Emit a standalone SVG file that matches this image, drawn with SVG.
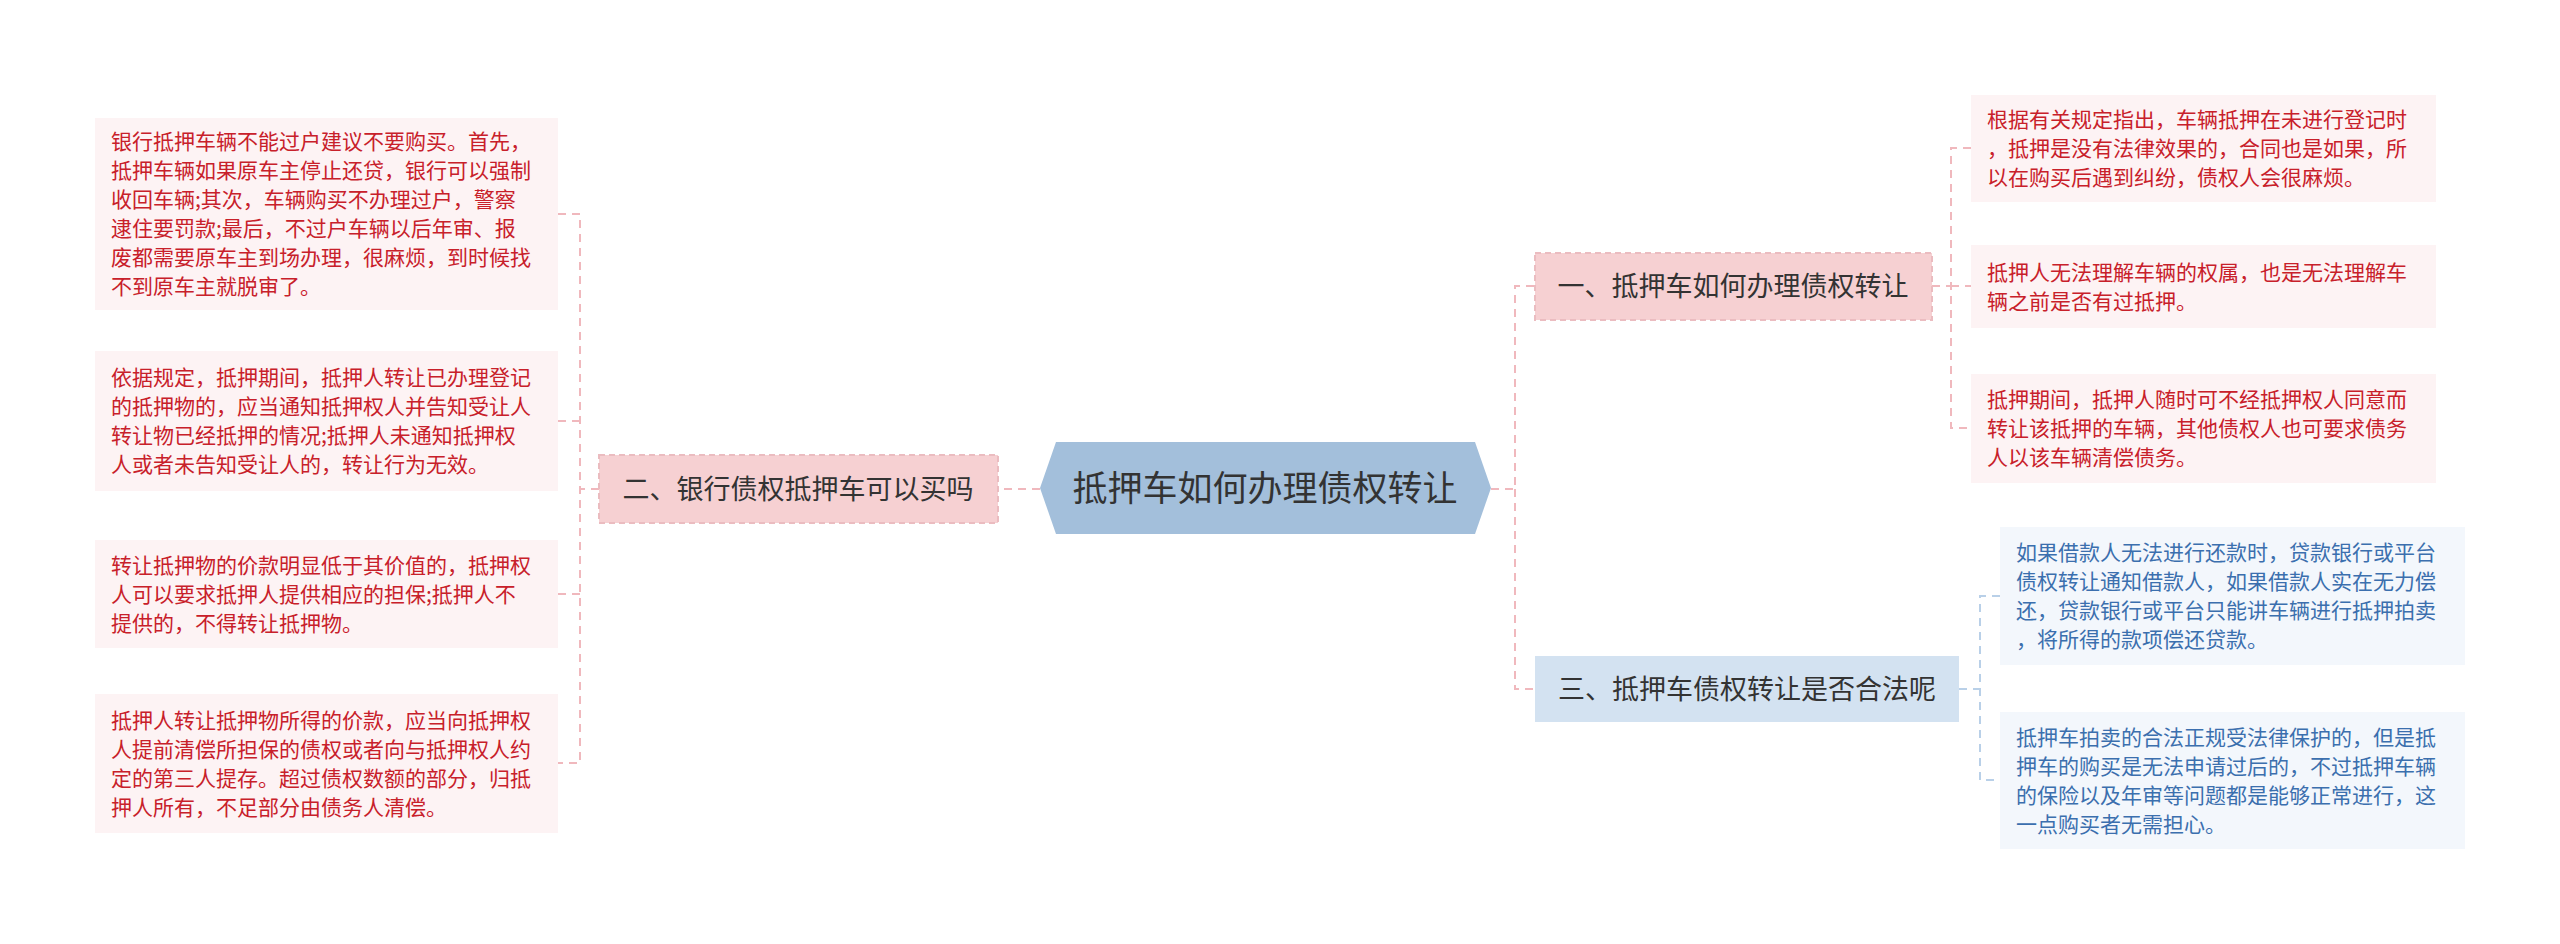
<svg xmlns="http://www.w3.org/2000/svg" width="2560" height="944" viewBox="0 0 2560 944">
<style>
text{font-family:"Noto Sans CJK SC","Noto Sans",sans-serif}
.lp{fill:#fdf3f4}
.lb{fill:#f3f7fc}
.lt{font-size:21px;fill:#c8202a}
.bt{font-size:21px;fill:#3b6fae}
.br{stroke:#ebbcc0;stroke-width:2;stroke-dasharray:6,4}
.cp{fill:none;stroke:#f0b8bd;stroke-width:2;stroke-dasharray:8,6}
.cb{fill:none;stroke:#b9d0e8;stroke-width:2;stroke-dasharray:8,6}
.bx{font-size:27px;fill:#333}
</style>
<g id="connectors">
<path class="cp" d="M1040 489H998"/>
<path class="cp" d="M599 489H580M558 214H580V763H558M580 421H558M580 594H558"/>
<path class="cp" d="M1491 489H1515V286H1535M1515 489V689H1535"/>
<path class="cp" d="M1932 286H1951M1971 148H1951V428H1971M1951 286H1971"/>
<path class="cb" d="M1959 689H1980M2000 596H1980V780H2000"/>
</g>
<g id="center"><polygon points="1040,488 1056,442 1475,442 1491,488 1475,534 1056,534" fill="#a3bfdb"/><text x="1265" y="501" text-anchor="middle" font-size="35" fill="#333">抵押车如何办理债权转让</text></g>
<g id="b2"><rect class="br" x="599" y="455" width="399" height="68" fill="#f6d0d2"/><text x="798" y="499" text-anchor="middle" class="bx">二、银行债权抵押车可以买吗</text></g>
<g id="b1"><rect class="br" x="1535" y="253" width="397" height="67" fill="#f6d0d2"/><text x="1733" y="296" text-anchor="middle" class="bx">一、抵押车如何办理债权转让</text></g>
<g id="b3"><rect x="1535" y="656" width="424" height="66" fill="#d3e2f1"/><text x="1747" y="699" text-anchor="middle" class="bx">三、抵押车债权转让是否合法呢</text></g>
<g id="l1"><rect class="lp" x="95" y="118" width="463" height="192"/><text class="lt" x="111" y="149"><tspan x="111">银行抵押车辆不能过户建议不要购买。首先，</tspan><tspan x="111" dy="29">抵押车辆如果原车主停止还贷，银行可以强制</tspan><tspan x="111" dy="29">收回车辆;其次，车辆购买不办理过户，警察</tspan><tspan x="111" dy="29">逮住要罚款;最后，不过户车辆以后年审、报</tspan><tspan x="111" dy="29">废都需要原车主到场办理，很麻烦，到时候找</tspan><tspan x="111" dy="29">不到原车主就脱审了。</tspan></text></g>
<g id="l2"><rect class="lp" x="95" y="351" width="463" height="140"/><text class="lt" x="111" y="385"><tspan x="111">依据规定，抵押期间，抵押人转让已办理登记</tspan><tspan x="111" dy="29">的抵押物的，应当通知抵押权人并告知受让人</tspan><tspan x="111" dy="29">转让物已经抵押的情况;抵押人未通知抵押权</tspan><tspan x="111" dy="29">人或者未告知受让人的，转让行为无效。</tspan></text></g>
<g id="l3"><rect class="lp" x="95" y="540" width="463" height="108"/><text class="lt" x="111" y="573"><tspan x="111">转让抵押物的价款明显低于其价值的，抵押权</tspan><tspan x="111" dy="29">人可以要求抵押人提供相应的担保;抵押人不</tspan><tspan x="111" dy="29">提供的，不得转让抵押物。</tspan></text></g>
<g id="l4"><rect class="lp" x="95" y="694" width="463" height="139"/><text class="lt" x="111" y="728"><tspan x="111">抵押人转让抵押物所得的价款，应当向抵押权</tspan><tspan x="111" dy="29">人提前清偿所担保的债权或者向与抵押权人约</tspan><tspan x="111" dy="29">定的第三人提存。超过债权数额的部分，归抵</tspan><tspan x="111" dy="29">押人所有，不足部分由债务人清偿。</tspan></text></g>
<g id="r1"><rect class="lp" x="1971" y="95" width="465" height="107"/><text class="lt" x="1987" y="127"><tspan x="1987">根据有关规定指出，车辆抵押在未进行登记时</tspan><tspan x="1987" dy="29">，抵押是没有法律效果的，合同也是如果，所</tspan><tspan x="1987" dy="29">以在购买后遇到纠纷，债权人会很麻烦。</tspan></text></g>
<g id="r2"><rect class="lp" x="1971" y="245" width="465" height="83"/><text class="lt" x="1987" y="280"><tspan x="1987">抵押人无法理解车辆的权属，也是无法理解车</tspan><tspan x="1987" dy="29">辆之前是否有过抵押。</tspan></text></g>
<g id="r3"><rect class="lp" x="1971" y="374" width="465" height="109"/><text class="lt" x="1987" y="407"><tspan x="1987">抵押期间，抵押人随时可不经抵押权人同意而</tspan><tspan x="1987" dy="29">转让该抵押的车辆，其他债权人也可要求债务</tspan><tspan x="1987" dy="29">人以该车辆清偿债务。</tspan></text></g>
<g id="r4"><rect class="lb" x="2000" y="527" width="465" height="138"/><text class="bt" x="2016" y="560"><tspan x="2016">如果借款人无法进行还款时，贷款银行或平台</tspan><tspan x="2016" dy="29">债权转让通知借款人，如果借款人实在无力偿</tspan><tspan x="2016" dy="29">还，贷款银行或平台只能讲车辆进行抵押拍卖</tspan><tspan x="2016" dy="29">，将所得的款项偿还贷款。</tspan></text></g>
<g id="r5"><rect class="lb" x="2000" y="712" width="465" height="137"/><text class="bt" x="2016" y="745"><tspan x="2016">抵押车拍卖的合法正规受法律保护的，但是抵</tspan><tspan x="2016" dy="29">押车的购买是无法申请过后的，不过抵押车辆</tspan><tspan x="2016" dy="29">的保险以及年审等问题都是能够正常进行，这</tspan><tspan x="2016" dy="29">一点购买者无需担心。</tspan></text></g>
</svg>
